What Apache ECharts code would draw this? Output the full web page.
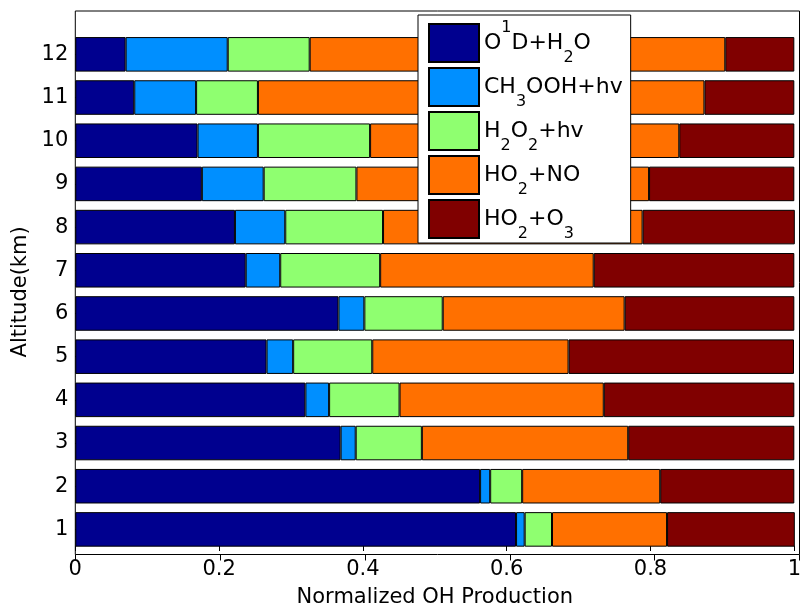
<!DOCTYPE html>
<html>
<head>
<meta charset="utf-8">
<script src="https://cdn.jsdelivr.net/npm/echarts@6/dist/echarts.min.js"></script>
<style>html,body{margin:0;padding:0;background:#fff;}#c{width:804px;height:613px;}</style>
</head>
<body>
<div id="c"></div>
<script>
const categories = ['1','2','3','4','5','6','7','8','9','10','11','12'];
const seriesNames = ['O1D+H2O','CH3OOH+hv','H2O2+hv','HO2+NO','HO2+O3'];
const o1dH2o  = [0.613, 0.563, 0.369, 0.320, 0.266, 0.366, 0.237, 0.222, 0.176, 0.170, 0.082, 0.070];
const ch3oohHv = [0.012, 0.014, 0.021, 0.033, 0.037, 0.036, 0.048, 0.070, 0.086, 0.084, 0.086, 0.142];
const h2o2Hv  = [0.038, 0.0445, 0.092, 0.098, 0.110, 0.109, 0.139, 0.136, 0.129, 0.156, 0.086, 0.114];
const ho2No   = [0.160, 0.192, 0.287, 0.284, 0.273, 0.253, 0.297, 0.361, 0.407, 0.430, 0.621, 0.578];
const ho2O3   = [0.178, 0.1865, 0.231, 0.265, 0.3135, 0.236, 0.279, 0.212, 0.202, 0.160, 0.125, 0.096];
const xTicks = [0, 0.2, 0.4, 0.6, 0.8, 1];

const colors = ['#00008F', '#008FFF', '#8FFF70', '#FF7000', '#800000'];
const dataSets = [o1dH2o, ch3oohHv, h2o2Hv, ho2No, ho2O3];
const richNames = {
  'O1D+H2O': '{n|O}{sup|1}{n|D+H}{sub|2}{n|O}',
  'CH3OOH+hv': '{n|CH}{sub|3}{n|OOH+hv}',
  'H2O2+hv': '{n|H}{sub|2}{n|O}{sub|2}{n|+hv}',
  'HO2+NO': '{n|HO}{sub|2}{n|+NO}',
  'HO2+O3': '{n|HO}{sub|2}{n|+O}{sub|3}'
};
const FONT = 'DejaVu Sans';

const chart = echarts.init(document.getElementById('c'), null, {renderer: 'canvas'});
const option = {
  animation: false,
  backgroundColor: '#fff',
  textStyle: {fontFamily: FONT, color: '#000'},
  grid: [
    {left: 75.3, right: 4.5, top: 32.75, bottom: 58.5, containLabel: false},
    {left: 75.3, right: 4.5, top: 11, bottom: 58.5, show: true, borderColor: '#000', borderWidth: 1, backgroundColor: 'transparent', z: 10}
  ],
  xAxis: [
    {
      type: 'value', gridIndex: 0, min: 0, max: 1, interval: 0.2,
      axisLine: {show: false},
      axisTick: {show: true, inside: true, length: 5, lineStyle: {color: '#000'}},
      splitLine: {show: false},
      axisLabel: {fontFamily: FONT, fontSize: 21, color: '#000', margin: 8,
        formatter: function (v) { const t = xTicks.find(x => Math.abs(x - v) < 1e-9); return t === undefined ? '' : String(t); }},
      name: 'Normalized OH Production', nameLocation: 'middle', nameGap: 36,
      nameTextStyle: {fontFamily: FONT, fontSize: 21, color: '#000'}
    },
    {
      type: 'value', gridIndex: 1, min: 0, max: 1, interval: 0.2, position: 'top',
      axisLine: {show: false},
      axisTick: {show: true, inside: true, length: 6, lineStyle: {color: '#000'}},
      axisLabel: {show: false}, splitLine: {show: false}, z: 10
    }
  ],
  yAxis: [
    {
      type: 'category', gridIndex: 0, data: categories,
      axisLine: {show: false},
      axisTick: {show: true, inside: true, alignWithLabel: true, length: 5, lineStyle: {color: '#000'}},
      axisLabel: {fontFamily: FONT, fontSize: 21, color: '#000', margin: 7},
      name: 'Altitude(km)', nameLocation: 'middle', nameGap: 40, nameRotate: 90,
      nameTextStyle: {fontFamily: FONT, fontSize: 21, color: '#000'}
    },
    {
      type: 'value', gridIndex: 1, min: 0, max: 1, show: false
    }
  ],
  legend: {
    orient: 'vertical', left: 418, top: 15,
    data: seriesNames,
    itemWidth: 50, itemHeight: 38, itemGap: 1,
    padding: [5, 8, 1, 10],
    backgroundColor: '#fff', borderColor: '#000', borderWidth: 1,
    icon: 'rect',
    selectedMode: false,
    formatter: function (name) { return richNames[name]; },
    textStyle: {
      fontFamily: FONT, color: '#000',
      rich: {
        n: {fontFamily: FONT, fontSize: 22, lineHeight: 46, verticalAlign: 'middle', color: '#000'},
        sub: {fontFamily: FONT, fontSize: 16, lineHeight: 17, verticalAlign: 'bottom', color: '#000'},
        sup: {fontFamily: FONT, fontSize: 16, lineHeight: 37, verticalAlign: 'top', color: '#000'}
      }
    },
    z: 20
  },
  series: seriesNames.map(function (name, i) {
    return {
      name: name, type: 'bar', stack: 'total',
      xAxisIndex: 0, yAxisIndex: 0,
      barCategoryGap: '20%',
      data: dataSets[i],
      itemStyle: {color: colors[i], borderColor: '#000', borderWidth: 1},
      emphasis: {disabled: true}
    };
  })
};
chart.setOption(option);
</script>
</body>
</html>
